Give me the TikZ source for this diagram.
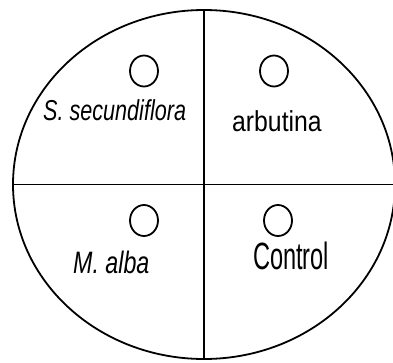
\documentclass[tikz,border=0pt]{standalone}
\usepackage{fontspec}
\setmainfont{Liberation Sans}[FakeStretch=0.75]
\newfontfamily\widerfont{Liberation Sans}[FakeStretch=0.86]
\newfontfamily\narrowfont{Liberation Sans}[FakeStretch=0.62]
\usetikzlibrary{shapes.geometric}

\tikzset{
  plate/.style={draw, ellipse, line width=1.8pt, inner sep=0pt,
    minimum width=382pt, minimum height=349pt},
  well/.style={draw, ellipse, line width=1.8pt, inner sep=0pt,
    minimum width=28pt, minimum height=31pt},
  txt/.style={anchor=base west, inner sep=0pt}
}

\begin{document}
\begin{tikzpicture}[x=1pt, y=-1pt]
    \useasboundingbox (0,0) rectangle (393,362);
    % Plate and quadrants
    \node[plate] (plate) at (204,184.5) {};
    \draw[line width=1.8pt] (plate.north) -- (plate.south);
    \draw[line width=1.8pt] (plate.west) -- (plate.east);
    % Wells
    \node[well] (wellA) at (144,71) {};
    \node[well] (wellB) at (274,71) {};
    \node[well] (wellC) at (144,220.5) {};
    \node[well] (wellD) at (278,220.5) {};
    % Treatments
    \node[txt, font=\fontsize{28.8}{30}\selectfont\itshape] (secund) at (43,120) {S. secundiflora};
    \node[txt, font=\widerfont\fontsize{28.8}{30}\selectfont] (arbut) at (232,131) {arbutina};
    \node[txt, font=\fontsize{31}{33}\selectfont\itshape] (alba) at (73,273) {M. alba};
    \node[txt, font=\narrowfont\fontsize{38}{40}\selectfont] (control) at (253,269) {Control};
\end{tikzpicture}
\end{document}
